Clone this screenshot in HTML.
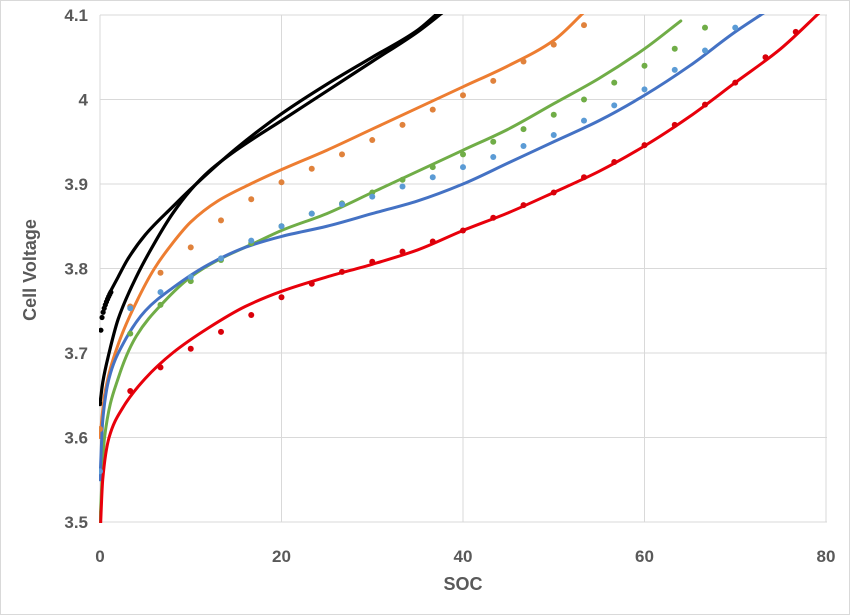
<!DOCTYPE html>
<html><head><meta charset="utf-8"><style>
html,body{margin:0;padding:0;background:#fff}
svg{display:block;font-family:"Liberation Sans",sans-serif}
</style></head><body>
<svg id="s" width="850" height="615" viewBox="0 0 850 615">
<rect x="0.5" y="0.5" width="849" height="614" fill="#fff" stroke="#d9d9d9"/>
<defs><clipPath id="c"><rect x="99" y="14" width="729" height="509"/></clipPath></defs>
<g id="grid" stroke="#d9d9d9" stroke-width="1"></g>
<g id="lab" fill="#595959" font-size="17" font-weight="bold"></g>
<text x="463" y="590" text-anchor="middle" font-size="18" font-weight="bold" fill="#595959">SOC</text>
<text transform="translate(36,270) rotate(-90)" text-anchor="middle" font-size="18" font-weight="bold" fill="#595959">Cell Voltage</text>
<g id="plot" clip-path="url(#c)"></g>
</svg>
<script>
const X=v=>100+v*9.075, Y=v=>15+(4.1-v)*845;
const NS="http://www.w3.org/2000/svg";
function el(p,t,a,txt){const e=document.createElementNS(NS,t);for(const k in a)e.setAttribute(k,a[k]);if(txt!=null)e.textContent=txt;document.getElementById(p).appendChild(e);return e;}
for(let i=0;i<=4;i++){const x=X(i*20);el('grid','line',{x1:x,x2:x,y1:15,y2:522});el('lab','text',{x:x,y:562,'text-anchor':'middle'},String(i*20));}
for(let i=0;i<=6;i++){const v=3.5+i*0.1,y=Y(v);el('grid','line',{x1:100,x2:827,y1:y,y2:y});el('lab','text',{x:88,y:y+6,'text-anchor':'end'},(Math.round(v*10)/10).toString());}
// monotone cubic (Fritsch-Carlson) in pixel space
function path(pts){const P=pts.map(p=>[X(p[0]),Y(p[1])]);const n=P.length;
const d=[],m=[];for(let i=0;i<n-1;i++)d.push((P[i+1][1]-P[i][1])/(P[i+1][0]-P[i][0]));
m[0]=d[0];m[n-1]=d[n-2];for(let i=1;i<n-1;i++){if(d[i-1]*d[i]<=0)m[i]=0;else{const h0=P[i][0]-P[i-1][0],h1=P[i+1][0]-P[i][0];const w1=2*h1+h0,w2=h1+2*h0;m[i]=(w1+w2)/(w1/d[i-1]+w2/d[i]);}}
let s="M"+P[0][0]+","+P[0][1];
for(let i=0;i<n-1;i++){const h=(P[i+1][0]-P[i][0])/3;s+=` C${P[i][0]+h},${P[i][1]+m[i]*h} ${P[i+1][0]-h},${P[i+1][1]-m[i+1]*h} ${P[i+1][0]},${P[i+1][1]}`;}return s;}
function line(pts,c,w){el('plot','path',{d:path(pts),fill:'none',stroke:c,'stroke-width':w||3,'stroke-linejoin':'round','stroke-linecap':'round'});}
function dots(vals,c){vals.forEach((v,i)=>{if(v!=null)el('plot','circle',{cx:X(i*10/3),cy:Y(v),r:3,fill:c});});}
line([[0,3.64],[0.3,3.665],[1,3.7],[2,3.74],[4,3.79],[6,3.83],[8,3.865],[10,3.893],[12,3.915],[15,3.94],[20,3.975],[25,4.01],[30,4.045],[35,4.08],[38,4.105]],'#000',3.2);
line([[1,3.77],[2,3.79],[3,3.81],[5,3.84],[8,3.873],[10,3.894],[15,3.942],[20,3.983],[25,4.018],[30,4.05],[35,4.082],[37.5,4.105]],'#000',3.2);
for(let i=0;i<10;i++){const t=i/9;el('plot','circle',{cx:X(0.1+t*1.1),cy:Y(3.727+Math.sqrt(t)*0.045),r:2.6,fill:'#000'});}
el('plot','circle',{cx:X(0),cy:Y(3.64),r:2.5,fill:'#000'});
line([[0,3.6],[0.5,3.65],[2,3.71],[4,3.76],[6,3.8],[8,3.83],[10,3.855],[13,3.88],[16,3.897],[20,3.917],[25,3.94],[30,3.965],[35,3.99],[40,4.015],[45,4.04],[50,4.07],[53.5,4.105]],'#ED7D31');
line([[0,3.5],[0.5,3.6],[2,3.67],[4,3.72],[7,3.76],[10,3.79],[13,3.81],[17,3.83],[20,3.845],[25,3.865],[30,3.89],[35,3.915],[40,3.94],[45,3.965],[50,3.995],[55,4.025],[60,4.06],[64,4.093]],'#70AD47');
line([[0,3.55],[0.3,3.62],[1,3.67],[2.5,3.71],[5,3.75],[8,3.777],[12,3.805],[16,3.825],[20,3.838],[25,3.85],[30,3.865],[35,3.88],[40,3.9],[45,3.925],[50,3.95],[55,3.975],[60,4.005],[65,4.04],[70,4.08],[73.5,4.105]],'#4472C4');
line([[0,3.48],[0.3,3.55],[1,3.6],[2.5,3.635],[5,3.67],[8,3.7],[12,3.73],[16,3.755],[20,3.773],[25,3.79],[30,3.805],[35,3.822],[40,3.845],[45,3.866],[50,3.89],[55,3.915],[60,3.945],[65,3.98],[70,4.02],[75,4.06],[79.5,4.105]],'#E8000B');
dots([3.61,3.755,3.795,3.825,3.857,3.882,3.902,3.918,3.935,3.952,3.97,3.988,4.005,4.022,4.045,4.065,4.088],'#E0823C');
dots([null,3.723,3.757,3.785,3.81,3.83,3.85,3.865,3.877,3.89,3.905,3.92,3.935,3.95,3.965,3.982,4.0,4.02,4.04,4.06,4.085],'#70AD47');
dots([3.56,3.753,3.772,3.79,3.812,3.833,3.85,3.865,3.876,3.885,3.897,3.908,3.92,3.932,3.945,3.958,3.975,3.993,4.012,4.035,4.058,4.085],'#5B9BD5');
dots([null,3.655,3.683,3.705,3.725,3.745,3.766,3.782,3.796,3.808,3.82,3.832,3.845,3.86,3.875,3.89,3.908,3.926,3.946,3.97,3.994,4.02,4.05,4.08],'#D9000A');
</script>
</body></html>
